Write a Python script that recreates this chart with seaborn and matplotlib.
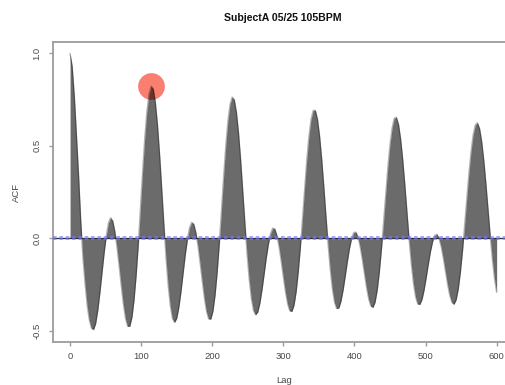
import numpy as np
import matplotlib
matplotlib.use("Agg")
import matplotlib.pyplot as plt
import seaborn as sns

# Autocorrelation of the beat signal, sampled every 3 lags (0..600)
lags = list(range(0, 601, 3))
acf = [
    1.000, 0.930, 0.770, 0.560, 0.340, 0.100, -0.100, -0.240, -0.360, -0.440,
    -0.485, -0.494, -0.461, -0.390, -0.293, -0.184, -0.077, 0.014, 0.083, 0.111,
    0.095, 0.038, -0.048, -0.149, -0.256, -0.356, -0.433, -0.476, -0.476, -0.428,
    -0.333, -0.198, -0.033, 0.161, 0.358, 0.537, 0.682, 0.780, 0.823, 0.808,
    0.736, 0.613, 0.451, 0.264, 0.070, -0.106, -0.253, -0.364, -0.433, -0.455,
    -0.433, -0.374, -0.289, -0.190, -0.091, -0.007, 0.056, 0.086, 0.077, 0.031,
    -0.043, -0.134, -0.232, -0.324, -0.396, -0.436, -0.437, -0.393, -0.306, -0.180,
    -0.026, 0.152, 0.332, 0.497, 0.632, 0.724, 0.764, 0.750, 0.683, 0.570,
    0.422, 0.252, 0.076, -0.086, -0.221, -0.325, -0.390, -0.414, -0.399, -0.351,
    -0.278, -0.193, -0.106, -0.031, 0.026, 0.055, 0.051, 0.015, -0.046, -0.124,
    -0.209, -0.289, -0.354, -0.392, -0.396, -0.362, -0.289, -0.181, -0.047, 0.110,
    0.273, 0.424, 0.552, 0.644, 0.692, 0.692, 0.645, 0.553, 0.427, 0.277,
    0.117, -0.036, -0.169, -0.274, -0.346, -0.380, -0.377, -0.341, -0.281, -0.206,
    -0.127, -0.055, -0.001, 0.031, 0.033, 0.007, -0.044, -0.113, -0.190, -0.265,
    -0.327, -0.366, -0.374, -0.346, -0.281, -0.183, -0.058, 0.087, 0.238, 0.383,
    0.506, 0.597, 0.649, 0.655, 0.617, 0.537, 0.423, 0.285, 0.136, -0.010,
    -0.139, -0.243, -0.316, -0.355, -0.358, -0.331, -0.279, -0.211, -0.138, -0.070,
    -0.016, 0.016, 0.022, 0.001, -0.044, -0.106, -0.177, -0.248, -0.307, -0.346,
    -0.357, -0.333, -0.275, -0.184, -0.068, 0.068, 0.211, 0.349, 0.468, 0.559,
    0.613, 0.625, 0.594, 0.524, 0.420, 0.293, 0.153, 0.013, -0.113, -0.217,
    -0.292,
]
ci = 0.006            # white-noise confidence bound (very narrow, n is large)
beat_lag = 114        # lag of the first beat-period peak
x_ticks = [0, 100, 200, 300, 400, 500, 600]
y_ticks = [-0.5, 0.0, 0.5, 1.0]
y_ticklabels = ["-0.5", "0.0", "0.5", "1.0"]
title = "SubjectA 05/25 105BPM"

sns.set_theme(style="white")
plt.rcParams["font.family"] = ["Liberation Sans", "DejaVu Sans"]

frame = "#9c9c9c"
txt = "#4a4a4a"

fig = plt.figure(figsize=(5.06, 3.85), dpi=100)
ax = fig.add_axes([53 / 506, 43.2 / 385, 460.7 / 506, 299.4 / 385])

# highlighted beat peak, sits beneath the translucent ACF area
beat_val = acf[lags.index(beat_lag)]
ax.scatter([beat_lag], [beat_val], s=370, color="#fa7f70", lw=0, zorder=1)

ax.fill_between(lags, 0, acf, color="black", alpha=0.58, lw=0, zorder=2)
sns.lineplot(x=lags, y=acf, ax=ax, color="black", alpha=0.3, lw=1.0, zorder=3)

ax.axhline(0, color="#2a2a2a", lw=0.9, zorder=4)
for b in (ci, -ci):
    ax.axhline(b, color="#7777ff", lw=1.2, ls=(0, (2.2, 1.6)), alpha=0.75, zorder=5)

ax.set_xlim(-24, 624)
ax.set_ylim(-0.56, 1.06)
ax.set_xticks(x_ticks)
ax.set_yticks(y_ticks)
ax.set_yticklabels(y_ticklabels)

for s in ax.spines.values():
    s.set_visible(True)
    s.set_color(frame)
    s.set_linewidth(1.3)
ax.tick_params(axis="both", which="major", direction="out", length=3.1, width=1.0,
               color=frame, labelcolor=txt, labelsize=6.8,
               bottom=True, left=True, top=False, right=False)
ax.tick_params(axis="x", pad=4.5)
ax.tick_params(axis="y", pad=5.0, labelrotation=90)
for lab in ax.get_yticklabels():
    lab.set_va("center")

ax.set_xlabel("Lag", fontsize=6.8, color=txt)
ax.xaxis.set_label_coords(0.501, -0.1276)
ax.xaxis.label.set_va("center")
ax.set_ylabel("ACF", fontsize=6.8, color=txt)
ax.yaxis.set_label_coords(-0.0803, 0.5)
ax.yaxis.label.set_va("center")

fig.text(283 / 506, 1 - 18.3 / 385, title, ha="center", va="center",
         fontsize=7.6, fontweight="bold", color="#111111")

fig.savefig("out.png", dpi=100)
